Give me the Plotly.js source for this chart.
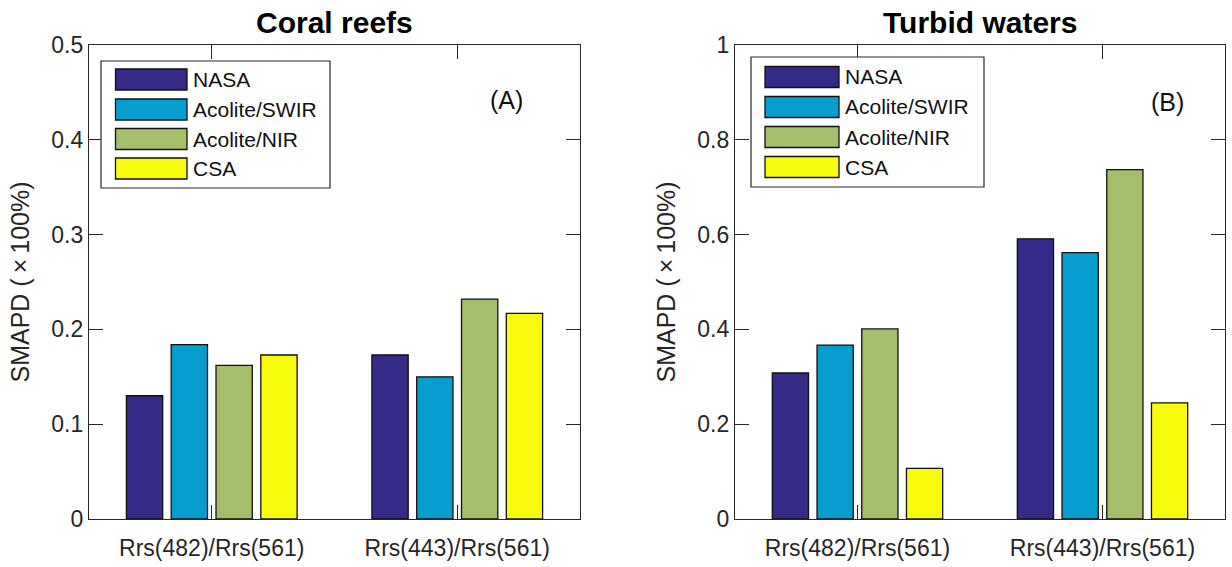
<!DOCTYPE html>
<html>
<head>
<meta charset="utf-8">
<script src="https://cdn.plot.ly/plotly-3.0.1.min.js"></script>
<style>
  html, body { margin: 0; padding: 0; background: #ffffff; }
  #chart { width: 1232px; height: 567px; }
</style>
</head>
<body>
<div id="chart"></div>
<script>
// ---------------- data ----------------
const categories = ['Rrs(482)/Rrs(561)', 'Rrs(443)/Rrs(561)'];
const methods = ['NASA', 'Acolite/SWIR', 'Acolite/NIR', 'CSA'];
const methodColors = ['#352A87', '#079DCF', '#A5BE6B', '#F9FB0E'];

// Coral reefs (A)
const coral_NASA = [0.130, 0.173];
const coral_SWIR = [0.184, 0.150];
const coral_NIR  = [0.162, 0.232];
const coral_CSA  = [0.173, 0.217];

// Turbid waters (B)
const turbid_NASA = [0.308, 0.591];
const turbid_SWIR = [0.367, 0.562];
const turbid_NIR  = [0.401, 0.737];
const turbid_CSA  = [0.107, 0.245];

const panelTitles = ['Coral reefs', 'Turbid waters'];
const panelLabels = ['(A)', '(B)'];
const yTitle = 'SMAPD (\u2009\u00D7\u2009100%)';

// ---------------- traces ----------------
const coralSeries = [coral_NASA, coral_SWIR, coral_NIR, coral_CSA];
const turbidSeries = [turbid_NASA, turbid_SWIR, turbid_NIR, turbid_CSA];

const traces = [];
function addPanel(series, xa, ya) {
  series.forEach((vals, i) => {
    traces.push({
      type: 'bar',
      x: categories,
      y: vals,
      name: methods[i],
      xaxis: xa,
      yaxis: ya,
      showlegend: false,
      marker: { color: methodColors[i], line: { color: '#111111', width: 1.3 } },
      hoverinfo: 'x+y+name'
    });
  });
}
addPanel(coralSeries, 'x', 'y');
addPanel(turbidSeries, 'x2', 'y2');

// ---------------- layout ----------------
const W = 1232, H = 567;
const FONT = 'Liberation Sans, Arial, Helvetica, sans-serif';
const AX = '#262626';

function xAxis(domain, anchor) {
  return {
    domain: domain, anchor: anchor,
    type: 'category',
    range: [-0.5, 1.5],
    showline: true, linecolor: AX, linewidth: 1.2, mirror: 'ticks',
    ticks: 'inside', ticklen: 14, tickwidth: 1.2, tickcolor: AX,
    ticklabelstandoff: 8,
    showgrid: false, zeroline: false,
    tickfont: { family: FONT, size: 23, color: AX },
    fixedrange: true
  };
}
function yAxis(range, dtick, anchor, standoff) {
  return {
    anchor: anchor, domain: [0, 1],
    range: range, dtick: dtick, tick0: 0,
    showline: true, linecolor: AX, linewidth: 1.2, mirror: 'ticks',
    ticks: 'inside', ticklen: 14, tickwidth: 1.2, tickcolor: AX,
    showgrid: false, zeroline: false,
    tickfont: { family: FONT, size: 23, color: AX },
    title: { text: yTitle, font: { family: FONT, size: 25, color: AX }, standoff: standoff },
    fixedrange: true
  };
}

const shapes = [];
const annotations = [];

// custom MATLAB-style legend inside each panel (built from methods/colors)
function addLegend(xr, yr, box, sw, rowY, textX) {
  shapes.push({
    type: 'rect', xref: xr + ' domain', yref: yr + ' domain',
    x0: box[0], x1: box[1], y0: box[2], y1: box[3],
    line: { color: AX, width: 1.2 }, fillcolor: '#ffffff', layer: 'above'
  });
  methods.forEach((m, i) => {
    shapes.push({
      type: 'rect', xref: xr + ' domain', yref: yr + ' domain',
      x0: sw[0], x1: sw[1], y0: rowY[i] - sw[2], y1: rowY[i] + sw[2],
      line: { color: '#111111', width: 1.3 }, fillcolor: methodColors[i], layer: 'above'
    });
    annotations.push({
      xref: xr + ' domain', yref: yr + ' domain',
      x: textX, y: rowY[i], xanchor: 'left', yanchor: 'middle',
      text: m, showarrow: false,
      font: { family: FONT, size: 21, color: '#111111' }
    });
  });
}

function rowsFrom(px) { return px.map(p => (519 - p) / 474); }

addLegend('x', 'y',
  [(101 - 89) / 491, (330 - 89) / 491, (519 - 188) / 474, (519 - 61) / 474],
  [(115.5 - 89) / 491, (187 - 89) / 491, 10.5 / 474],
  rowsFrom([79.5, 109.5, 139, 168.5]),
  (191 - 89) / 491);

addLegend('x2', 'y2',
  [(751 - 735) / 490, (984 - 735) / 490, (519 - 187) / 474, (519 - 57) / 474],
  [(765 - 735) / 490, (839 - 735) / 490, 10.5 / 474],
  rowsFrom([77, 107, 137, 167]),
  (843 - 735) / 490);

// panel titles
[['x', 'y'], ['x2', 'y2']].forEach((p, i) => {
  annotations.push({
    xref: p[0] + ' domain', yref: p[1] + ' domain',
    x: 0.5, y: (519 - 23) / 474, xanchor: 'center', yanchor: 'middle',
    text: '<b>' + panelTitles[i] + '</b>', showarrow: false,
    font: { family: FONT, size: 30, color: '#000000' }
  });
});

// panel labels (A) / (B)
annotations.push({
  xref: 'x domain', yref: 'y domain', x: 0.851, y: 0.884,
  xanchor: 'center', yanchor: 'middle', text: panelLabels[0], showarrow: false,
  font: { family: FONT, size: 25, color: '#111111' }
});
annotations.push({
  xref: 'x2 domain', yref: 'y2 domain', x: 0.882, y: 0.880,
  xanchor: 'center', yanchor: 'middle', text: panelLabels[1], showarrow: false,
  font: { family: FONT, size: 25, color: '#111111' }
});

const layout = {
  width: W, height: H,
  margin: { l: 0, r: 0, t: 45, b: 48, pad: 0 },
  paper_bgcolor: '#ffffff', plot_bgcolor: '#ffffff',
  font: { family: FONT, color: AX },
  barmode: 'group',
  bargap: 0.27,
  bargroupgap: 0.19,
  showlegend: false,
  xaxis: xAxis([89 / W, 580 / W], 'y'),
  yaxis: yAxis([0, 0.5], 0.1, 'x', 14),
  xaxis2: xAxis([735 / W, 1225 / W], 'y2'),
  yaxis2: yAxis([0, 1], 0.2, 'x2', 14),
  shapes: shapes,
  annotations: annotations
};

Plotly.newPlot('chart', traces, layout, { displayModeBar: false, staticPlot: true });
</script>
</body>
</html>
